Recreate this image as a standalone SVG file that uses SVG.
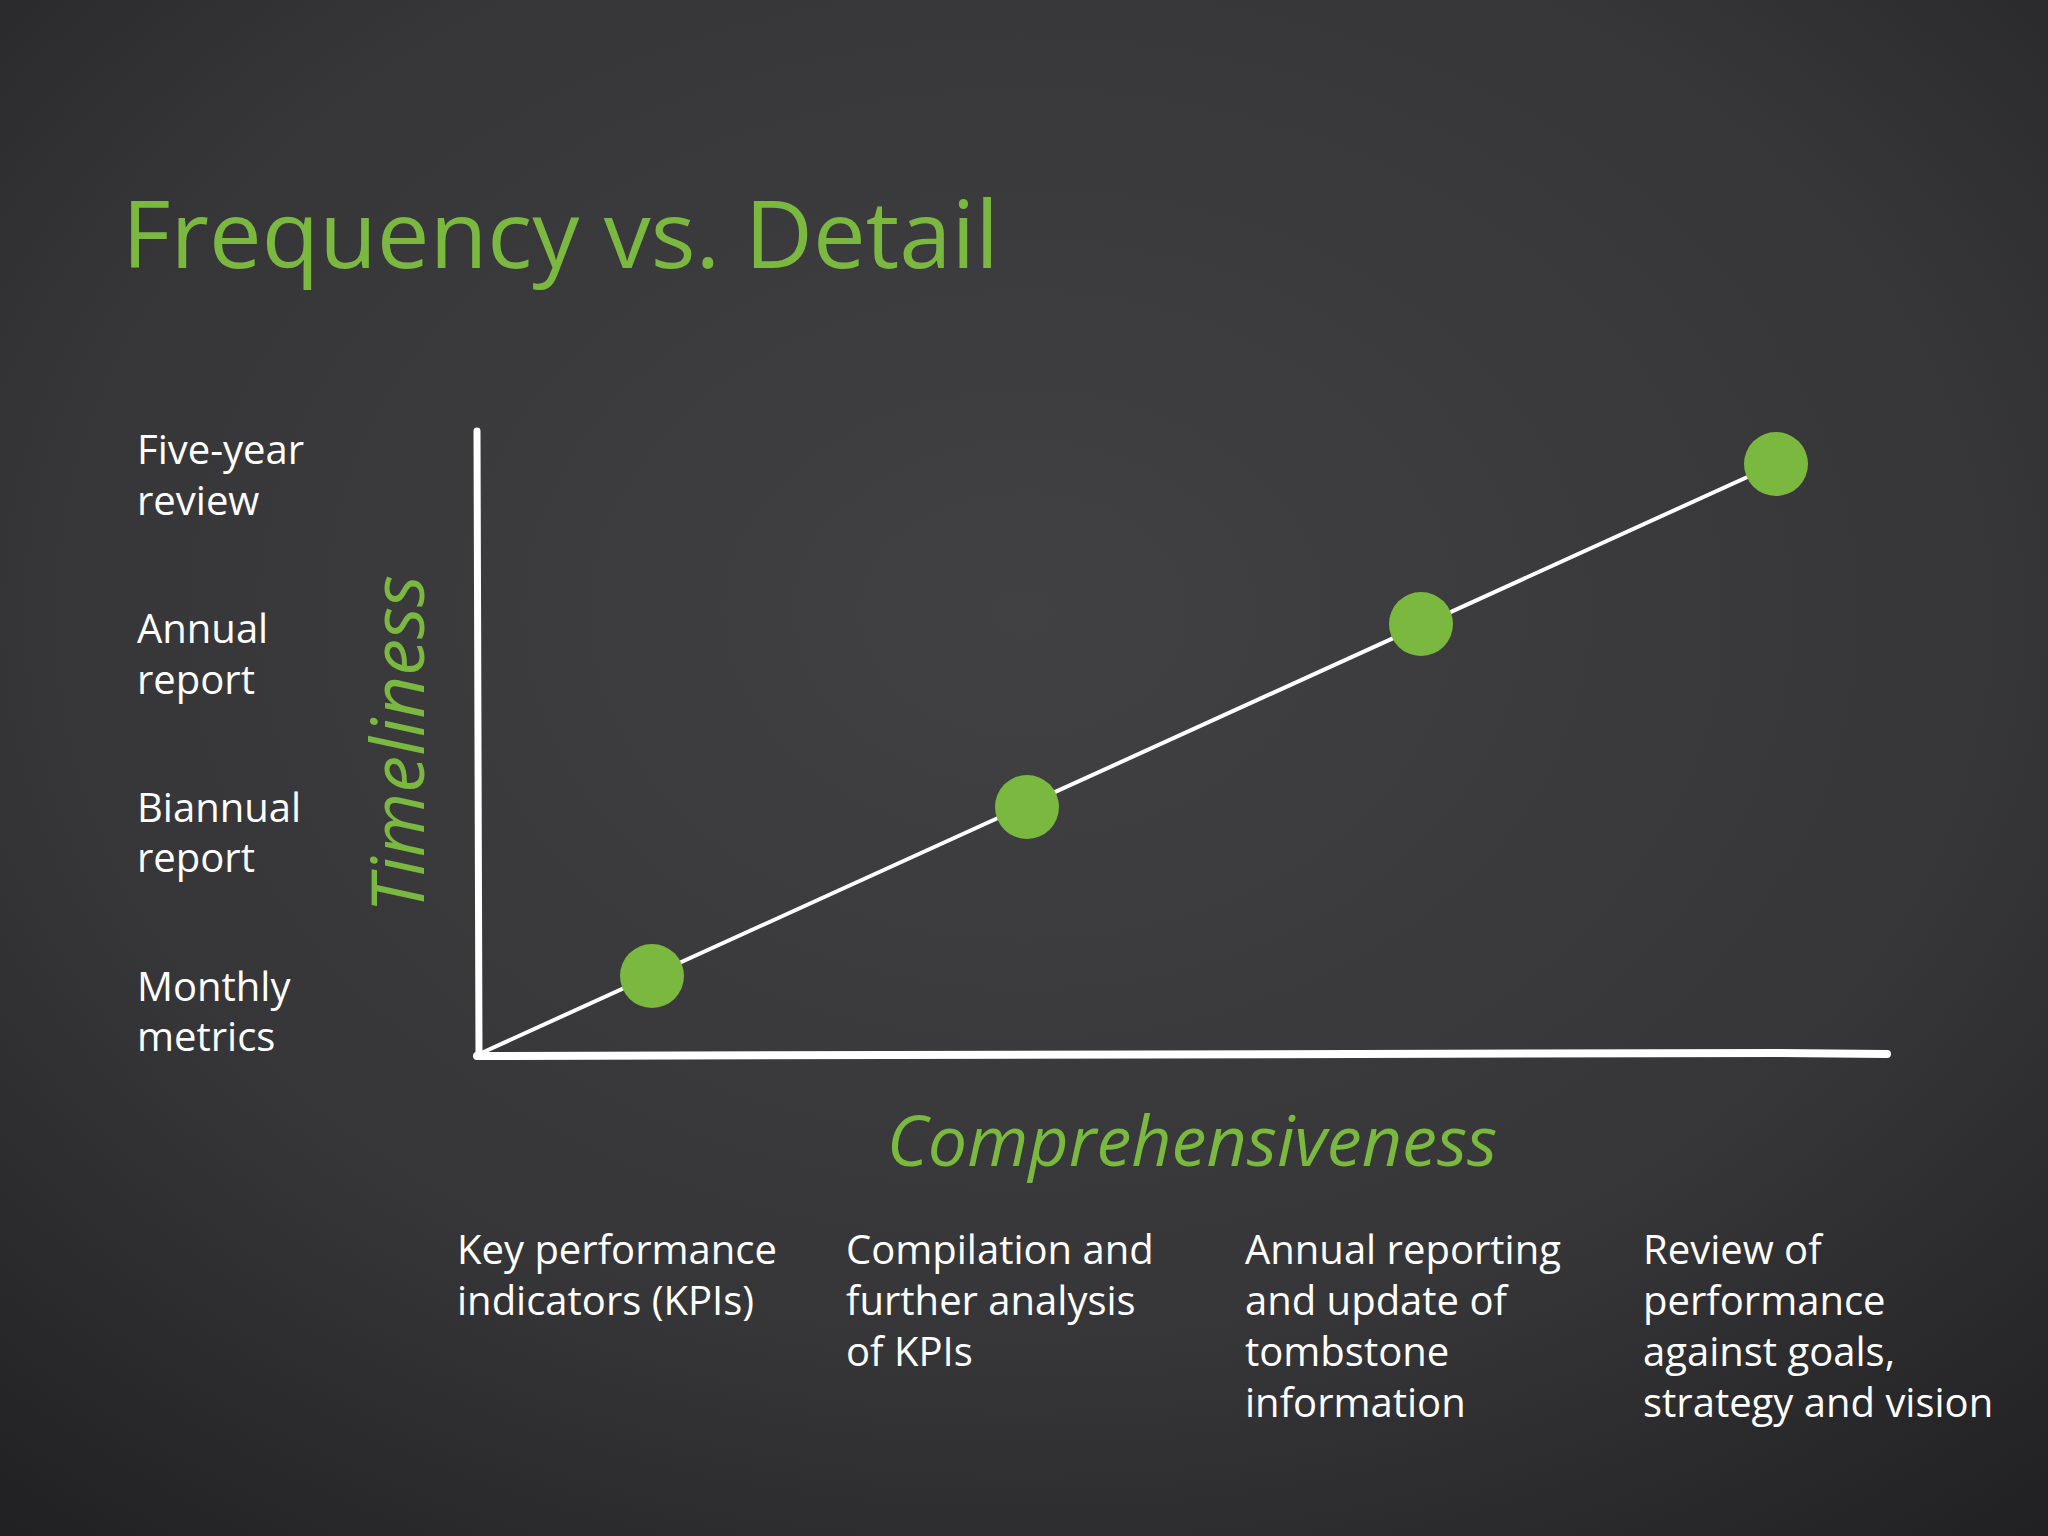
<svg xmlns="http://www.w3.org/2000/svg" width="2048" height="1536" viewBox="0 0 2048 1536">
<defs>
<radialGradient id="bg" cx="0.5" cy="0.4" r="0.8">
<stop offset="0" stop-color="#414143"/><stop offset="0.6" stop-color="#363638"/><stop offset="1" stop-color="#1f1f21"/>
</radialGradient>
<style>
.lbl{font-family:"Open Sans","Noto Sans",sans-serif;font-size:40px;fill:#ffffff}
.grn{font-family:"Open Sans","Noto Sans",sans-serif;fill:#7ab840}
.ax{stroke:#ffffff;stroke-linecap:round;fill:none}
.dot{fill:#7ab840}
</style>
</defs>
<rect width="2048" height="1536" fill="url(#bg)"/>
<text class="grn" x="122" y="268" font-size="94">Frequency vs. Detail</text>
<g id="ylabels">
<text class="lbl" x="137" y="464">Five-year</text><text class="lbl" x="137" y="515">review</text>
<text class="lbl" x="137" y="643">Annual</text><text class="lbl" x="137" y="694">report</text>
<text class="lbl" x="137" y="822">Biannual</text><text class="lbl" x="137" y="872">report</text>
<text class="lbl" x="137" y="1001">Monthly</text><text class="lbl" x="137" y="1051">metrics</text>
</g>
<text class="grn" font-size="74" font-style="italic" text-anchor="middle" transform="translate(424,744) rotate(-90)">Timeliness</text>
<g id="connectors">
<path class="ax" stroke-width="7" d="M477 431 L479 1056"/>
<path class="ax" stroke-width="8" d="M477 1056 L1780 1053 L1887 1054"/>
<path class="ax" stroke-width="4" d="M477 1055 L1776 464"/>
</g>
<g id="n1"><circle class="dot" cx="652" cy="976" r="32"/></g>
<g id="n2"><circle class="dot" cx="1027" cy="807" r="32"/></g>
<g id="n3"><circle class="dot" cx="1421" cy="624" r="32"/></g>
<g id="n4"><circle class="dot" cx="1776" cy="464" r="32"/></g>
<text class="grn" x="1192" y="1166" font-size="70" font-style="italic" text-anchor="middle">Comprehensiveness</text>
<g id="xlabels">
<text class="lbl" x="457" y="1264">Key performance</text><text class="lbl" x="457" y="1315">indicators (KPIs)</text>
<text class="lbl" x="846" y="1264">Compilation and</text><text class="lbl" x="846" y="1315">further analysis</text><text class="lbl" x="846" y="1366">of KPIs</text>
<text class="lbl" x="1245" y="1264">Annual reporting</text><text class="lbl" x="1245" y="1315">and update of</text><text class="lbl" x="1245" y="1366">tombstone</text><text class="lbl" x="1245" y="1417">information</text>
<text class="lbl" x="1643" y="1264">Review of</text><text class="lbl" x="1643" y="1315">performance</text><text class="lbl" x="1643" y="1366">against goals,</text><text class="lbl" x="1643" y="1417">strategy and vision</text>
</g>
</svg>
